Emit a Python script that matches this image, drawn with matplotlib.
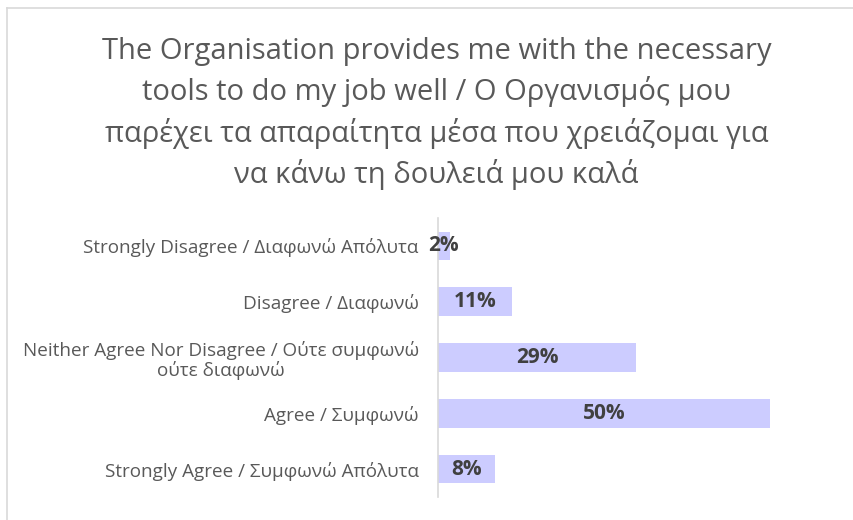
import matplotlib
matplotlib.use('Agg')
import matplotlib.pyplot as plt
from matplotlib.lines import Line2D

# chart data
categories = ['Strongly Disagree / Διαφωνώ Απόλυτα',
              'Disagree / Διαφωνώ',
              'Neither Agree Nor Disagree / Ούτε συμφωνώ\nούτε διαφωνώ',
              'Agree / Συμφωνώ',
              'Strongly Agree / Συμφωνώ Απόλυτα']
values = [1.7, 11.1, 29.8, 50.0, 8.6]
value_labels = ['2%', '11%', '29%', '50%', '8%']
title = ('The Organisation provides me with the necessary\n'
         'tools to do my job well / Ο Οργανισμός μου\n'
         'παρέχει τα απαραίτητα μέσα που χρειάζομαι για\n'
         'να κάνω τη δουλειά μου καλά')

plt.rcParams['font.family'] = ['Open Sans', 'DejaVu Sans']

fig = plt.figure(figsize=(8.54, 5.2), dpi=100)
ax = fig.add_axes([438.3 / 854, 23 / 520, 364.4 / 854, 279 / 520])

y = list(range(len(categories)))
ax.barh(y, values, height=0.51, color='#ccccff')
ax.set_ylim(len(categories) - 0.5, -0.5)
ax.set_xlim(0, 55)

for yi, v, lab in zip(y, values, value_labels):
    ax.text(v / 2, yi, lab, ha='center', va='center', fontsize=15,
            fontweight='bold', color='#404040')

ax.set_yticks(y)
ax.set_yticklabels(categories, fontsize=13.6, color='#595959', linespacing=1.1)
for lbl in ax.get_yticklabels():
    lbl.set_multialignment('center')
ax.tick_params(axis='y', length=0, pad=14)
ax.set_xticks([])
for side in ['top', 'right', 'bottom']:
    ax.spines[side].set_visible(False)
ax.spines['left'].set_color('#d9d9d9')
ax.spines['left'].set_linewidth(1.2)

fig.text(0.511, 1 - 37 / 520, title, ha='center', va='top', fontsize=21,
         color='#595959', linespacing=1.43)

# chart border (top and left edges visible)
fig.add_artist(Line2D([7 / 854, 1], [1 - 8 / 520, 1 - 8 / 520], color='#d9d9d9', lw=1.2))
fig.add_artist(Line2D([7 / 854, 7 / 854], [0, 1 - 8 / 520], color='#d9d9d9', lw=1.2))

fig.savefig('out.png', dpi=100)
